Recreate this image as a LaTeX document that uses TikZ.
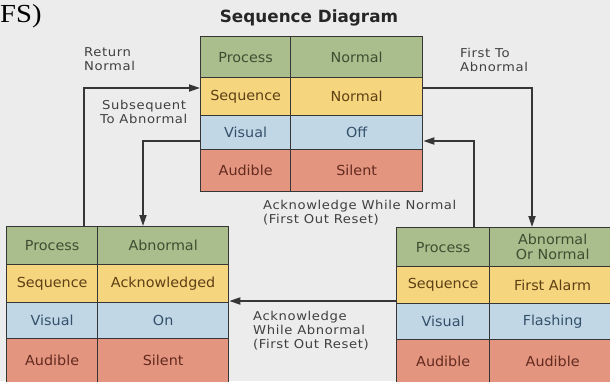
\documentclass[tikz,border=0pt]{standalone}
\usepackage{fontspec}
\setmainfont{DejaVu Sans}
\newfontfamily\labfont{DejaVu Sans}[LetterSpace=5,FakeStretch=1.08]
\newfontfamily\cellfnt{DejaVu Sans}[FakeStretch=1.04]
\newfontfamily\fsfont{Liberation Serif}[FakeStretch=1.1]
\usetikzlibrary{arrows.meta}
\definecolor{bgc}{HTML}{ECECEC}
\definecolor{linec}{HTML}{363636}
\definecolor{gfill}{HTML}{A9BE8C}
\definecolor{yfill}{HTML}{F5D57E}
\definecolor{bfill}{HTML}{C1D7E6}
\definecolor{rfill}{HTML}{E39580}
\definecolor{gtext}{HTML}{3F4E32}
\definecolor{ytext}{HTML}{5E4015}
\definecolor{btext}{HTML}{34506A}
\definecolor{rtext}{HTML}{632A1E}
\definecolor{labtext}{HTML}{404040}
\tikzset{
  cell/.style={draw=linec, line width=1.3pt, inner sep=0pt, anchor=north west,
    align=center, font=\cellfnt\fontsize{13.8}{15}\selectfont},
  greencell/.style={cell, fill=gfill, text=gtext},
  yellowcell/.style={cell, fill=yfill, text=ytext},
  bluecell/.style={cell, fill=bfill, text=btext},
  redcell/.style={cell, fill=rfill, text=rtext},
  conn/.style={draw=linec, line width=1.8pt, -{Triangle[length=11pt,width=7pt]}},
  lab/.style={anchor=north west, align=left, inner sep=0pt, text=labtext,
    font=\labfont\fontsize{12.2}{14}\selectfont},
}
\begin{document}
\begin{tikzpicture}[x=1pt,y=-1pt]
\fill[bgc] (0,0) rectangle (610,381);
\useasboundingbox (0,0) rectangle (610,381);
\clip (0,0) rectangle (610,381);

\node[anchor=base west, inner sep=0pt, font=\fsfont\fontsize{26}{26}\selectfont] (fs) at (0,22) {FS)};
\node[font=\bfseries\fontsize{16.8}{18}\selectfont, text=black!85] (title) at (309,18) {Sequence Diagram};

% top table
\node[greencell, minimum width=90pt, minimum height=41pt] (Tp1) at (200,36) {Process};
\node[greencell, minimum width=132pt, minimum height=41pt] (Tp2) at (290,36) {Normal};
\node[yellowcell, minimum width=90pt, minimum height=38pt] (Ts1) at (200,77) {Sequence};
\node[yellowcell, minimum width=132pt, minimum height=38pt] (Ts2) at (290,77) {Normal};
\node[bluecell, minimum width=90pt, minimum height=34pt] (Tv1) at (200,115) {Visual};
\node[bluecell, minimum width=132pt, minimum height=34pt] (Tv2) at (290,115) {Off};
\node[redcell, minimum width=90pt, minimum height=42pt] (Ta1) at (200,149) {Audible};
\node[redcell, minimum width=132pt, minimum height=42pt] (Ta2) at (290,149) {Silent};

% left table
\node[greencell, minimum width=91pt, minimum height=38pt] (Lp1) at (6,226) {Process};
\node[greencell, minimum width=131pt, minimum height=38pt] (Lp2) at (97,226) {Abnormal};
\node[yellowcell, minimum width=91pt, minimum height=38pt] (Ls1) at (6,264) {Sequence};
\node[yellowcell, minimum width=131pt, minimum height=38pt] (Ls2) at (97,264) {Acknowledged};
\node[bluecell, minimum width=91pt, minimum height=36pt] (Lv1) at (6,302) {Visual};
\node[bluecell, minimum width=131pt, minimum height=36pt] (Lv2) at (97,302) {On};
\node[redcell, minimum width=91pt, minimum height=48pt] (La1) at (6,338) {\raisebox{4pt}{Audible}};
\node[redcell, minimum width=131pt, minimum height=48pt] (La2) at (97,338) {\raisebox{4pt}{Silent}};

% right table
\node[greencell, minimum width=93pt, minimum height=39pt] (Rp1) at (396,227) {Process};
\node[greencell, minimum width=126pt, minimum height=39pt, font=\cellfnt\fontsize{13.8}{15}\selectfont] (Rp2) at (489,227) {Abnormal\\Or Normal};
\node[yellowcell, minimum width=93pt, minimum height=37pt] (Rs1) at (396,266) {Sequence};
\node[yellowcell, minimum width=126pt, minimum height=37pt] (Rs2) at (489,266) {First Alarm};
\node[bluecell, minimum width=93pt, minimum height=36pt] (Rv1) at (396,303) {Visual};
\node[bluecell, minimum width=126pt, minimum height=36pt] (Rv2) at (489,303) {Flashing};
\node[redcell, minimum width=93pt, minimum height=47pt] (Ra1) at (396,339) {\raisebox{4pt}{Audible}};
\node[redcell, minimum width=126pt, minimum height=47pt] (Ra2) at (489,339) {\raisebox{4pt}{Audible}};

% bend coordinates
\coordinate (rn) at (84,88);
\coordinate (sa) at (143,141);
\coordinate (fa) at (532,88);
\coordinate (an) at (474,141);
\coordinate (aa) at (300,301);

% connectors
\draw[conn] (Lp1.north -| rn) |- (Tp1.west |- rn);
\draw[conn] (Tp1.west |- sa) -| (Lp2.north -| sa);
\draw[conn] (Tp2.east |- fa) -| (Rp2.north -| fa);
\draw[conn] (Rp1.north -| an) |- (Tp2.east |- an);
\draw[conn] (Rp1.west |- aa) -- (Lp2.east |- aa);

% labels
\node[lab] (lrn) at (84,47) {Return\\Normal};
\node[lab] (lsa) at (100,100) {\hspace*{2pt}Subsequent\\To Abnormal};
\node[lab] (lfa) at (460,48) {First To\\Abnormal};
\node[lab] (lan) at (263,200) {Acknowledge While Normal\\(First Out Reset)};
\node[lab] (laa) at (253,311) {Acknowledge\\While Abnormal\\(First Out Reset)};
\end{tikzpicture}
\end{document}
